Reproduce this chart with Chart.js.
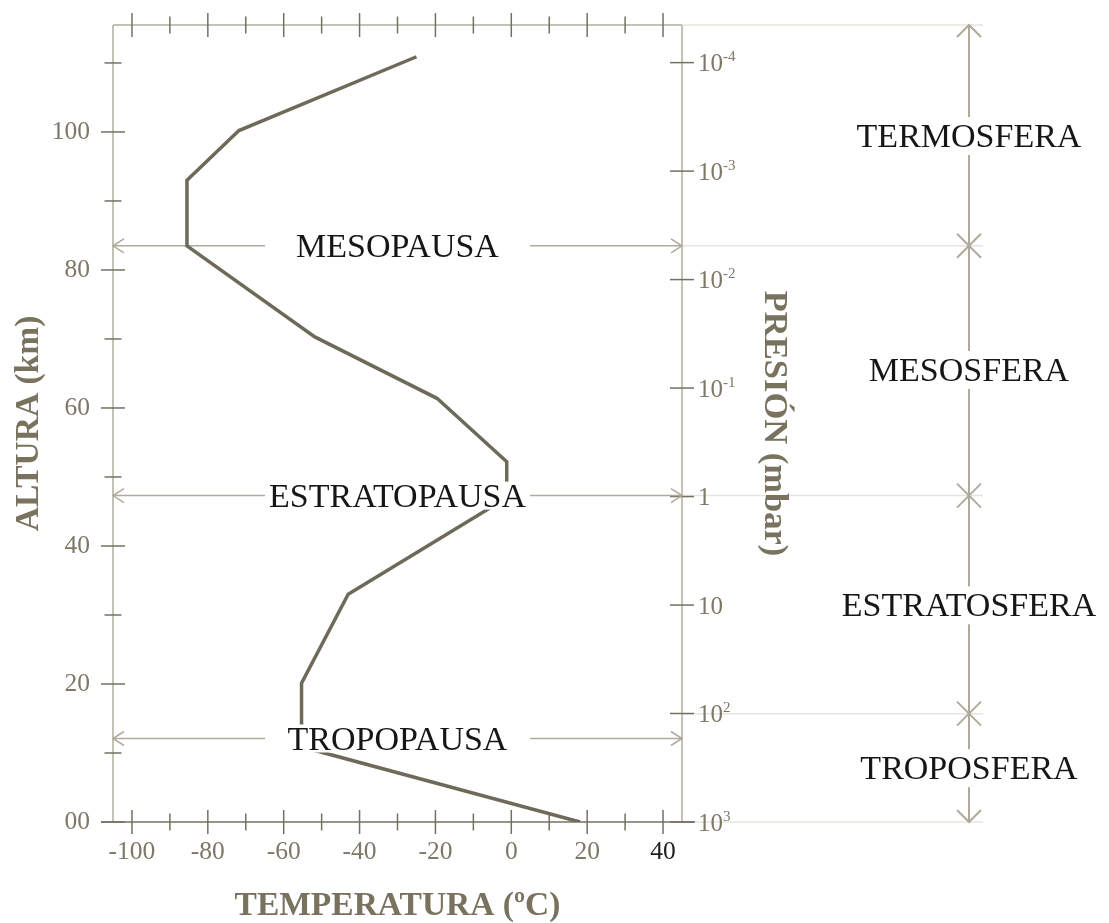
<!DOCTYPE html>
<html lang="es">
<head>
<meta charset="utf-8">
<title>Temperatura y presión de la atmósfera según la altura</title>
<script src="https://cdn.jsdelivr.net/npm/chart.js@4.4.1/dist/chart.umd.min.js"></script>
<style>
  html, body { margin: 0; padding: 0; background: #ffffff; }
  #wrap { position: relative; width: 1109px; height: 923px; }
</style>
</head>
<body>
<div id="wrap"><canvas id="chart"></canvas></div>
<script>
// Temperature profile (°C) against altitude (km), from the ground up
const altitudeKm   = [0, 10.9, 20.1, 33.0, 47.0, 52.2, 61.4, 70.3, 83.5, 93.0, 100.2, 110.9];
const temperatureC = [18.1, -55.3, -55.3, -43.0, -1.2, -1.2, -19.6, -51.8, -85.5, -85.5, -71.8, -25.0];

// Axis ticks and their labels
const temperatureTicks  = [-100, -90, -80, -70, -60, -50, -40, -30, -20, -10, 0, 10, 20, 30, 40];
const temperatureLabels = ['-100', '', '-80', '', '-60', '', '-40', '', '-20', '', '0', '', '20', '', '40'];
const altitudeTicks  = [0, 10, 20, 30, 40, 50, 60, 70, 80, 90, 100, 110];
const altitudeLabels = ['00', '', '20', '', '40', '', '60', '', '80', '', '100', ''];
const pressureTicks = [1000, 100, 10, 1, 0.1, 0.01, 0.001, 0.0001];
const pressureBase  = ['10', '10', '10', '1', '10', '10', '10', '10'];
const pressureExp   = ['3', '2', '', '', '-1', '-2', '-3', '-4'];

// Boundaries between layers (pausas) and the layers themselves (esferas)
const pauseNames     = ['TROPOPAUSA', 'ESTRATOPAUSA', 'MESOPAUSA'];
const pauseAltitudes = [12.1, 47.3, 83.5];
const layerNames     = ['TROPOSFERA', 'ESTRATOSFERA', 'MESOSFERA', 'TERMOSFERA'];
const layerLabelAlt  = [7.8, 31.4, 65.5, 99.4];
const layerLimitAlt  = [15.7, 47.3, 83.5];

// Axis ranges
const tempMin = -105, tempMax = 45;
const altMin = 0, altMax = 115.5;
const pressureMin = 4.5e-5, pressureMax = 1000;

const SERIF = "'Liberation Serif', 'Times New Roman', serif";
const COLORS = {
  curve: '#6e6a5a',
  axis: '#b0ac9f',
  tick: '#747061',
  label: '#7d7868',
  title: '#78725f',
  text: '#161616',
  guide: '#e6e4de',
  arrow: '#aeaa9c'
};

function line(ctx, x1, y1, x2, y2) {
  ctx.beginPath();
  ctx.moveTo(x1, y1);
  ctx.lineTo(x2, y2);
  ctx.stroke();
}

// open "V" arrow head with its tip at (x, y), pointing along (dx, dy)
function arrowHead(ctx, x, y, dx, dy, len, spread) {
  const bx = x - dx * len, by = y - dy * len;
  const px = -dy, py = dx;
  ctx.beginPath();
  ctx.moveTo(bx + px * spread, by + py * spread);
  ctx.lineTo(x, y);
  ctx.lineTo(bx - px * spread, by - py * spread);
  ctx.stroke();
}

// fixed box sizes for the axes, without the extra room Chart.js keeps for edge labels
function fixBox(size) {
  return s => {
    if (s.isHorizontal()) s.height = size; else s.width = size;
    s.paddingTop = 0; s.paddingBottom = 0; s.paddingLeft = 0; s.paddingRight = 0;
  };
}

const atmosphereDecor = {
  id: 'atmosphereDecor',
  beforeDraw(chart) {
    // faint guides running out to the layer column, kept under the axis titles
    const { ctx, chartArea: a, scales: { y } } = chart;
    const arrowX = a.right + 287;
    ctx.save();
    ctx.strokeStyle = COLORS.guide;
    ctx.lineWidth = 1.5;
    [a.top, y.getPixelForValue(layerLimitAlt[2]), y.getPixelForValue(layerLimitAlt[1]),
     y.getPixelForValue(layerLimitAlt[0]), a.bottom].forEach(py => line(ctx, a.right, py, arrowX + 14, py));
    ctx.restore();
  },
  beforeDatasetsDraw(chart) {
    const { ctx, chartArea: a, scales: { x, y, y2 } } = chart;
    const arrowX = a.right + 287;
    ctx.save();
    ctx.lineCap = 'butt';

    // frame
    ctx.strokeStyle = COLORS.axis;
    ctx.lineWidth = 1.5;
    line(ctx, a.left, a.top, a.left, a.bottom);
    line(ctx, a.left, a.top, a.right, a.top);
    line(ctx, a.right, a.top, a.right, a.bottom);
    ctx.strokeStyle = COLORS.tick;
    line(ctx, a.left - 12, a.bottom, a.right + 13, a.bottom);

    // tick marks crossing the axes
    ctx.strokeStyle = COLORS.tick;
    ctx.lineWidth = 1.5;
    x.ticks.forEach((t, i) => {
      const px = x.getPixelForValue(t.value);
      const h = temperatureLabels[i] ? 12 : 8.5;
      line(ctx, px, a.bottom - h, px, a.bottom + h);
      line(ctx, px, a.top - h, px, a.top + h);
    });
    y.ticks.forEach((t, i) => {
      const py = y.getPixelForValue(t.value);
      const w = altitudeLabels[i] ? 12 : 8.5;
      line(ctx, a.left - w, py, a.left + w, py);
    });
    y2.ticks.forEach(t => {
      const py = y2.getPixelForValue(t.value);
      line(ctx, a.right - 12, py, a.right + 12, py);
    });

    // double arrows marking each pausa
    ctx.strokeStyle = COLORS.arrow;
    ctx.lineWidth = 1.5;
    pauseAltitudes.forEach(alt => {
      const py = y.getPixelForValue(alt);
      line(ctx, a.left, py, a.right, py);
      arrowHead(ctx, a.left, py, -1, 0, 11, 7);
      arrowHead(ctx, a.right, py, 1, 0, 11, 7);
    });

    // vertical arrow spanning the layers, crossed at each limit
    ctx.lineWidth = 2;
    line(ctx, arrowX, a.top, arrowX, a.bottom);
    arrowHead(ctx, arrowX, a.top, 0, -1, 12, 12);
    arrowHead(ctx, arrowX, a.bottom, 0, 1, 12, 12);
    layerLimitAlt.forEach(alt => {
      const py = y.getPixelForValue(alt);
      line(ctx, arrowX - 12, py - 12, arrowX + 12, py + 12);
      line(ctx, arrowX - 12, py + 12, arrowX + 12, py - 12);
    });
    ctx.restore();
  },
  afterDatasetsDraw(chart) {
    const { ctx, chartArea: a, scales: { y, y2 } } = chart;
    const arrowX = a.right + 287;
    const midX = (a.left + a.right) / 2;
    ctx.save();

    // pausa labels on white boxes
    ctx.font = '34px ' + SERIF;
    ctx.textAlign = 'center';
    ctx.textBaseline = 'alphabetic';
    pauseNames.forEach((name, i) => {
      const py = y.getPixelForValue(pauseAltitudes[i]);
      ctx.fillStyle = '#ffffff';
      ctx.fillRect(midX - 132.5, py - 14, 265, 28);
      ctx.fillStyle = COLORS.text;
      ctx.fillText(name, midX, py + 11);
    });

    // layer names over the vertical arrow
    layerNames.forEach((name, i) => {
      const py = y.getPixelForValue(layerLabelAlt[i]);
      const w = ctx.measureText(name).width + 8;
      ctx.fillStyle = '#ffffff';
      ctx.fillRect(arrowX - w / 2, py - 19, w, 38);
      ctx.fillStyle = COLORS.text;
      ctx.fillText(name, arrowX, py + 11);
    });

    // pressure labels with exponents
    ctx.textAlign = 'left';
    ctx.fillStyle = COLORS.label;
    y2.ticks.forEach((t, i) => {
      const py = y2.getPixelForValue(t.value);
      const bx = a.right + 16;
      ctx.font = '25px ' + SERIF;
      ctx.fillText(pressureBase[i], bx, py + 8.5);
      if (pressureExp[i]) {
        const w = ctx.measureText(pressureBase[i]).width;
        ctx.font = '15px ' + SERIF;
        ctx.fillText(pressureExp[i], bx + w, py - 1.5);
      }
    });
    ctx.restore();
  }
};

const titleFont = { family: SERIF, size: 33.5, weight: 'bold', lineHeight: 1 };
const tickFont = { family: SERIF, size: 25.5 };

new Chart(document.getElementById('chart'), {
  type: 'line',
  data: {
    datasets: [{
      data: altitudeKm.map((alt, i) => ({ x: temperatureC[i], y: alt })),
      borderColor: COLORS.curve,
      borderWidth: 3.5,
      pointRadius: 0,
      tension: 0,
      fill: false,
      xAxisID: 'x',
      yAxisID: 'y'
    }]
  },
  options: {
    responsive: true,
    maintainAspectRatio: false,
    devicePixelRatio: 1,
    animation: false,
    events: [],
    layout: { padding: 0 },
    plugins: { legend: { display: false }, tooltip: { enabled: false } },
    scales: {
      x: {
        type: 'linear', position: 'bottom', min: tempMin, max: tempMax,
        afterBuildTicks: s => { s.ticks = temperatureTicks.map(v => ({ value: v })); },
        afterFit: fixBox(101),
        grid: { display: false, drawTicks: false },
        border: { display: false },
        ticks: {
          autoSkip: false, maxRotation: 0, padding: 14.5, font: tickFont,
          color: c => (c.tick && c.tick.value === 40 ? '#1e1e1e' : COLORS.label),
          callback: (v, i) => temperatureLabels[i]
        },
        title: {
          display: true, text: 'TEMPERATURA (ºC)', color: COLORS.title, font: titleFont,
          padding: { top: 0, bottom: 0 }
        }
      },
      x2: {
        type: 'linear', position: 'top', min: tempMin, max: tempMax,
        afterBuildTicks: s => { s.ticks = temperatureTicks.map(v => ({ value: v })); },
        afterFit: fixBox(25),
        grid: { display: false, drawTicks: false },
        border: { display: false },
        ticks: { display: false }
      },
      y: {
        type: 'linear', position: 'left', min: altMin, max: altMax,
        afterBuildTicks: s => { s.ticks = altitudeTicks.map(v => ({ value: v })); },
        afterFit: fixBox(113),
        grid: { display: false, drawTicks: false },
        border: { display: false },
        ticks: {
          autoSkip: false, padding: 23, font: tickFont, color: COLORS.label,
          callback: (v, i) => altitudeLabels[i]
        },
        title: {
          display: true, text: 'ALTURA (km)', color: COLORS.title, font: titleFont,
          padding: { top: 13, bottom: 0 }
        }
      },
      y2: {
        type: 'logarithmic', position: 'right', reverse: true, min: pressureMin, max: pressureMax,
        afterBuildTicks: s => { s.ticks = pressureTicks.map(v => ({ value: v })); },
        afterFit: fixBox(427),
        grid: { display: false, drawTicks: false },
        border: { display: false },
        ticks: { display: false },
        title: {
          display: true, text: 'PRESIÓN (mbar)', color: COLORS.title,
          font: { family: SERIF, size: 34.5, weight: 'bold', lineHeight: 1 },
          padding: { top: 318, bottom: 0 }
        }
      }
    }
  },
  plugins: [atmosphereDecor]
});
</script>
</body>
</html>
